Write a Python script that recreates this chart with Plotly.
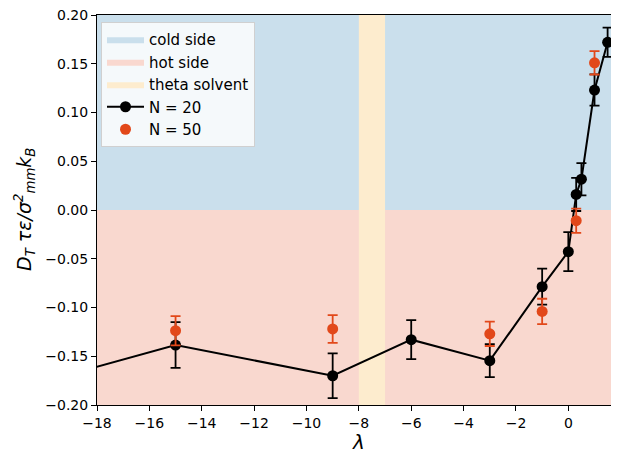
import plotly.graph_objects as go

# N = 20 series (first point lies left of the visible range)
lam20 = [-21, -15, -9, -6, -3, -1, 0, 0.3, 0.5, 1.0, 1.5]
dt20 = [-0.183, -0.1385, -0.170, -0.133, -0.1545, -0.0786, -0.0427, 0.016, 0.0316, 0.123, 0.172]
err20 = [0.023, 0.0235, 0.023, 0.020, 0.017, 0.0185, 0.020, 0.017, 0.0165, 0.016, 0.015]

# N = 50 series
lam50 = [-15, -9, -3, -1, 0.3, 1.0]
dt50 = [-0.1238, -0.122, -0.127, -0.104, -0.011, 0.151]
err50 = [0.015, 0.0142, 0.0125, 0.013, 0.0125, 0.012]

# regions
x_span = [-25, 5]
cold_y = [0, 0.2]
hot_y = [-0.2, 0]
theta_x = [-8, -7]

xticks = list(range(-18, 3, 2))
yticks = [-0.20, -0.15, -0.10, -0.05, 0.00, 0.05, 0.10, 0.15, 0.20]
x_range = [-18, 1.935]

blue = "#cadfec"
pink = "#f9d8cf"
yellow = "#fdecce"
orange = "#e2481a"

fig = go.Figure()

def rect(xs, ys):
    return [xs[0], xs[1], xs[1], xs[0], xs[0]], [ys[0], ys[0], ys[1], ys[1], ys[0]]

rx, ry = rect(x_span, cold_y)
fig.add_trace(go.Scatter(x=rx, y=ry, fill="toself", fillcolor=blue, mode="lines",
                         line=dict(width=0, color=blue), name="cold side", hoverinfo="skip"))
rx, ry = rect(x_span, hot_y)
fig.add_trace(go.Scatter(x=rx, y=ry, fill="toself", fillcolor=pink, mode="lines",
                         line=dict(width=0, color=pink), name="hot side", hoverinfo="skip"))
rx, ry = rect(theta_x, [hot_y[0], cold_y[1]])
fig.add_trace(go.Scatter(x=rx, y=ry, fill="toself", fillcolor=yellow, mode="lines",
                         line=dict(width=0, color=yellow), name="theta solvent", hoverinfo="skip"))

fig.add_trace(go.Scatter(
    x=lam20, y=dt20, mode="lines+markers", name="N = 20",
    line=dict(color="black", width=2),
    marker=dict(color="black", size=11),
    error_y=dict(type="data", array=err20, color="black", thickness=1.8, width=5),
))
fig.add_trace(go.Scatter(
    x=lam50, y=dt50, mode="markers", name="N = 50",
    marker=dict(color=orange, size=11),
    error_y=dict(type="data", array=err50, color=orange, thickness=1.8, width=5),
))

# page body has an 8px margin: compensate so the plot lands where the reference has it
OFF = 8
W, H = 619, 453
L = 97 - OFF
T = 15 - OFF
R = W - (619 - OFF)
B = H - (405 - OFF)
pw = W - L - R
ph = H - T - B

# last tick label sits just past the visible right edge (partly cut in the reference)
last_tick_paper = (xticks[-1] - x_range[0]) / (x_range[1] - x_range[0])

fig.update_layout(
    width=W, height=H,
    margin=dict(l=L, r=R, t=T, b=B, pad=0, autoexpand=False),
    plot_bgcolor="white", paper_bgcolor="white",
    font=dict(family="DejaVu Sans", size=14, color="black"),
    showlegend=True,
    legend=dict(
        x=(101 - 97) / pw, y=1 - (22 - 15) / ph, xanchor="left", yanchor="top",
        bgcolor="rgba(255,255,255,0.8)", bordercolor="#d0d0d0", borderwidth=1,
        font=dict(size=15), tracegroupgap=0, itemwidth=37,
    ),
    xaxis=dict(
        range=x_range, tickmode="array", tickvals=xticks,
        ticks="outside", ticklen=5, tickwidth=1, tickcolor="black",
        showline=True, linecolor="black", linewidth=1, mirror=True,
        showgrid=False, zeroline=False, automargin=False, ticklabeloverflow="allow",
    ),
    yaxis=dict(
        range=[-0.2, 0.2], tickmode="array", tickvals=yticks, tickformat=".2f",
        ticks="outside", ticklen=5, tickwidth=1, tickcolor="black",
        showline=True, linecolor="black", linewidth=1,
        showgrid=False, zeroline=False, automargin=False, ticklabeloverflow="allow",
    ),
    annotations=[
        dict(text=str(xticks[-1]), xref="paper", yref="paper", x=last_tick_paper, y=0,
             yshift=-6, xanchor="center", yanchor="top", showarrow=False,
             font=dict(size=14)),
        dict(text="<i>λ</i>", xref="paper", yref="paper", x=(358 - 97) / pw,
             y=-(442 - 405) / ph,
             xanchor="center", yanchor="middle", showarrow=False, font=dict(size=20)),
        dict(text="<i>D<sub>T</sub> τε/σ<sup>2</sup><sub>mm</sub>k<sub>B</sub></i>",
             xref="paper", yref="paper", x=-(97 - 24) / pw, y=(405 - 210) / ph, textangle=-90,
             xanchor="center", yanchor="middle", showarrow=False, font=dict(size=19)),
    ],
)

fig.write_html("out.html")
